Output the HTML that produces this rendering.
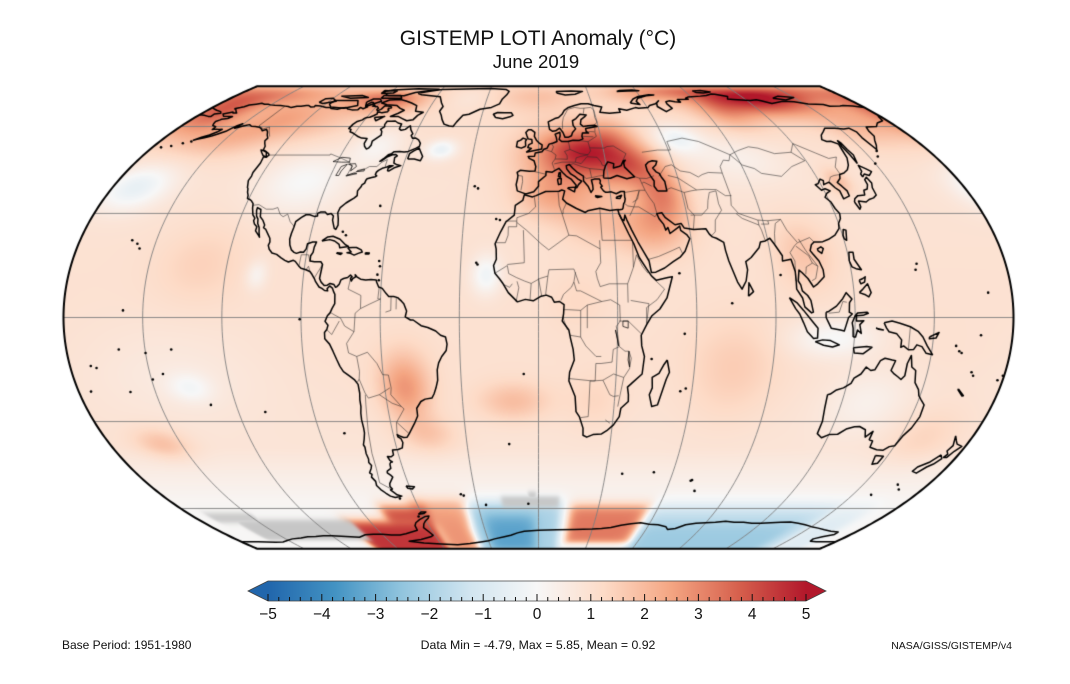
<!DOCTYPE html>
<html><head><meta charset="utf-8">
<style>
html,body{margin:0;padding:0;background:#fff;}
body{width:1070px;height:684px;position:relative;overflow:hidden;}
#c{position:absolute;left:0;top:0;}
#o{position:absolute;left:0;top:0;}
text{font-family:"Liberation Sans",Arial,sans-serif;fill:#111;}
</style></head><body>
<canvas id="c" width="1070" height="684"></canvas>
<svg id="o" width="1070" height="684" viewBox="0 0 1070 684">
<defs>
<linearGradient id="cb" x1="0" x2="1" y1="0" y2="0">
<stop offset="0" stop-color="#2166ac"/><stop offset="0.125" stop-color="#4393c3"/>
<stop offset="0.25" stop-color="#92c5de"/><stop offset="0.375" stop-color="#d1e5f0"/>
<stop offset="0.5" stop-color="#f7f7f7"/><stop offset="0.625" stop-color="#fddbc7"/>
<stop offset="0.75" stop-color="#f4a582"/><stop offset="0.875" stop-color="#d6604d"/>
<stop offset="1" stop-color="#b2182b"/>
</linearGradient>
</defs>
<text x="538" y="45" text-anchor="middle" font-size="21">GISTEMP LOTI Anomaly (°C)</text>
<text x="536" y="68" text-anchor="middle" font-size="18.5">June 2019</text>
<polygon points="268,581 248,591 268,601" fill="#2166ac"/>
<polygon points="806,581 826,591 806,601" fill="#b2182b"/>
<rect x="268" y="581" width="538" height="20" fill="url(#cb)"/>
<polygon points="248,591 268,581 806,581 826,591 806,601 268,601" fill="none" stroke="#444" stroke-width="0.8"/>
<g id="ticks" stroke="#111" stroke-width="1"></g>
<g font-size="15.5" text-anchor="middle">
<text x="268" y="619">−5</text><text x="321.8" y="619">−4</text><text x="375.6" y="619">−3</text>
<text x="429.4" y="619">−2</text><text x="483.2" y="619">−1</text><text x="537" y="619">0</text>
<text x="590.8" y="619">1</text><text x="644.6" y="619">2</text><text x="698.4" y="619">3</text>
<text x="752.2" y="619">4</text><text x="806" y="619">5</text>
</g>
<text x="62" y="649" font-size="12">Base Period: 1951-1980</text>
<text x="538" y="649" font-size="12.3" text-anchor="middle">Data Min = -4.79, Max = 5.85, Mean = 0.92</text>
<text x="1012" y="649" font-size="10.5" text-anchor="end">NASA/GISS/GISTEMP/v4</text>
</svg>
<script>
(function(){
var tg=document.getElementById('ticks'),s='';
for(var i=0;i<=50;i++){var x=268+i*10.76;var maj=(i%5==0);s+='<line x1="'+x+'" x2="'+x+'" y1="'+(maj?594:597)+'" y2="601"/>';}
tg.innerHTML=s;

var cv=document.getElementById('c'),ctx=cv.getContext('2d');
var W=1070,H=684,CX=538.5,CY=317.5,S=175.5;
var A1=1.340264,A2=-0.081106,A3=0.000893,A4=0.003796,M=Math.sqrt(3)/2,D=Math.PI/180;
function P(lon,lat){var l=lon*D,p=lat*D;var th=Math.asin(M*Math.sin(p));var t2=th*th,t6=t2*t2*t2;
var x=l*Math.cos(th)/(M*(A1+3*A2*t2+t6*(7*A3+9*A4*t2)));var y=th*(A1+A2*t2+t6*(A3+A4*t2));return [CX+S*x,CY-S*y];}

var basePts=[[-90,0.05],[-62,0.05],[-56,0.15],[-47,0.45],[-38,0.85],[-10,1.0],[20,0.95],[40,0.9],[60,1.05],[75,1.25],[90,1.3]];
function base(lat){for(var i=1;i<basePts.length;i++){if(lat<=basePts[i][0]){var a=basePts[i-1],b=basePts[i];var t=(lat-a[0])/(b[0]-a[0]);return a[1]+t*(b[1]-a[1]);}}return 1.3;}
var blobs=[
[125,73,22,6,3.2],[150,80,30,6,1.5],[90,80,20,5,1.5],[60,78,15,5,0.8],[100,66,10,6,1.0],
[-172,66,12,7,2.2],[-150,76,25,6,1.4],[-135,63,12,5,0.9],
[-82,73,12,5,1.8],[-100,75,12,5,1.0],[-115,62,15,6,0.7],
[-40,75,10,6,-0.4],[0,75,15,6,0.6],[160,60,12,6,0.9],
[22,50,14,6,2.6],[15,47,18,9,1.4],[42,45,9,5,1.7],[52,36,7,6,1.8],[45,26,10,6,1.4],[5,35,10,5,1.0],[22,28,10,6,0.7],[35,57,8,5,0.8],
[66,55,8,4,-1.3],[90,48,15,6,-0.6],[-170,38,10,5,-1.4],[-100,40,13,7,-0.9],[-75,52,8,5,-0.8],[-45,51,5,2.5,-1.4],
[-108,12,3,3,-0.8],[-20,12,4,4,-1.2],[112,-6,12,4,-1.0],[130,-24,12,7,-0.6],[-136,-20,6,3,-0.8],[-140,-15,25,10,-0.35],
[128,40,4,3,1.0],[103,18,8,7,0.8],[-52,-20,7,7,1.8],[-45,-34,8,4,0.8],[-10,-24,10,4,1.0],[-158,-37,8,3.5,1.0],
[75,-15,12,10,0.6],[160,-35,10,6,0.5],[-130,15,12,8,0.5],[-150,55,15,5,1.0],[22,-24,8,6,0.4],[15,5,8,6,0.3]
];
function sg(x){return 1/(1+Math.exp(-x));}
function sr(lon,lat,r){var s=r[5]||1;return sg((lon-r[0])/s)*sg((r[1]-lon)/s)*sg((lat-r[2])/s)*sg((r[3]-lat)/s);}
var ov=[
[-64,-34,-67,-56.5,2.4,1.6],
[-80,-56,-67,-59,4.2,1.4],
[-104,-56,-91,-65.5,4.5,1.4],
[-56,-37,-88,-62,2.8,1.6],
[-36,12,-91,-57.5,-2.0,1.5],
[-29,-2,-86,-63,-3.4,2.0],
[16,57,-79,-58.5,3.3,1.4],
[56,150,-91,-59,-1.5,1.8],
[58,140,-91,-67,-2.3,2.2],
[150,168,-91,-60,-0.8,2.2]
];
var gr=[[-172,-148,-66.5,-62,0,0.8],[-162,-100,-77,-65,0,0.8],[-18,10,-59.5,-55.2,0,0.6],[-5,-1,-56,-53.3,0,0.5]];
var stops=[[-5,[33,102,172]],[-3.75,[67,147,195]],[-2.5,[146,197,222]],[-1.25,[209,229,240]],[0,[247,247,247]],[1.25,[253,219,199]],[2.5,[244,165,130]],[3.75,[214,96,77]],[5,[178,24,43]]];
function cmap(v){if(v<=-5)return stops[0][1].slice();if(v>=5)return stops[8][1].slice();
for(var i=1;i<stops.length;i++){if(v<=stops[i][0]){var a=stops[i-1],b=stops[i],t=(v-a[0])/(b[0]-a[0]);return [a[1][0]+t*(b[1][0]-a[1][0]),a[1][1]+t*(b[1][1]-a[1][1]),a[1][2]+t*(b[1][2]-a[1][2])];}}}
function colorAt(lon,lat){var v=base(lat);
for(var i=0;i<blobs.length;i++){var b=blobs[i];var dl=lon-b[0];if(dl>180)dl-=360;if(dl<-180)dl+=360;var dx=dl/b[2],dy=(lat-b[1])/b[3];var e=dx*dx+dy*dy;if(e<14)v+=b[4]*Math.exp(-0.5*e);}
var g=0;
if(lat<-50){for(var j=0;j<ov.length;j++){var w=sr(lon,lat,ov[j]);if(w>0.001)v=v*(1-w)+ov[j][4]*w;}
for(var k=0;k<gr.length;k++){var w2=sr(lon,lat,gr[k]);if(w2>g)g=w2;}}
var c=cmap(v);
if(g>0){c[0]=c[0]*(1-g)+198*g;c[1]=c[1]*(1-g)+198*g;c[2]=c[2]*(1-g)+198*g;}
return c;}

var img=ctx.createImageData(W,H),d=img.data;
for(var i=0;i<d.length;i++)d[i]=255;
var YM=1.31735;
for(var py=80;py<560;py++){
var Y=(CY-(py+0.5))/S;if(Math.abs(Y)>YM)continue;
var th=Y/A1;
for(var k=0;k<10;k++){var t2=th*th,t6=t2*t2*t2;var f=th*(A1+A2*t2+t6*(A3+A4*t2))-Y;var fp=A1+3*A2*t2+t6*(7*A3+9*A4*t2);th-=f/fp;}
var t2=th*th,t6=t2*t2*t2;var fp=A1+3*A2*t2+t6*(7*A3+9*A4*t2);
var sn=Math.sin(th)/M;if(sn>1)sn=1;if(sn<-1)sn=-1;
var lat=Math.asin(sn)/D;var fac=M*fp/Math.cos(th)/D;
for(var px=0;px<W;px++){var lon=((px+0.5)-CX)/S*fac;if(lon<-180||lon>180)continue;
var c=colorAt(lon,lat);var q=(py*W+px)*4;d[q]=c[0];d[q+1]=c[1];d[q+2]=c[2];}
}
ctx.putImageData(img,0,0);

function outline(){ctx.beginPath();var p,la,lo;
for(la=-90;la<=90;la+=1){p=P(-180,la);if(la==-90)ctx.moveTo(p[0],p[1]);else ctx.lineTo(p[0],p[1]);}
for(la=90;la>=-90;la-=1){p=P(180,la);ctx.lineTo(p[0],p[1]);}
ctx.closePath();}
ctx.save();outline();ctx.clip();

ctx.strokeStyle='#7f7f7f';ctx.lineWidth=0.9;
[0,30,-30,60,-60].forEach(function(la){var a=P(-180,la),b=P(180,la);ctx.beginPath();ctx.moveTo(a[0],a[1]);ctx.lineTo(b[0],b[1]);ctx.stroke();});
for(var lo=-150;lo<=150;lo+=30){ctx.beginPath();for(var la=-90;la<=90;la+=2){var p=P(lo,la);if(la==-90)ctx.moveTo(p[0],p[1]);else ctx.lineTo(p[0],p[1]);}ctx.stroke();}

function line(a,close){ctx.beginPath();for(var i=0;i<a.length;i+=2){var p=P(a[i],a[i+1]);if(i==0)ctx.moveTo(p[0],p[1]);else ctx.lineTo(p[0],p[1]);}if(close)ctx.closePath();ctx.stroke();}

var BR=[
[-123,49,-95,49,-95,49.4,-89.5,48,-84.5,46.5,-82.5,45,-83,42,-79,43.3,-76.5,44,-74.7,45,-71.5,45,-70,46.5,-68,47.4,-67.8,45,-67,44.8],
[-141,69.6,-141,60.3,-137,59,-135,59.8,-133.5,58.5,-130,55.9],
[-117.1,32.5,-114.7,32.7,-111,31.3,-108.2,31.3,-106.5,31.8,-104.5,29.7,-103,29,-101.5,29.8,-99.5,27.5,-97.2,26],
[-92.2,14.5,-92,17.8,-89.2,17.8,-88.2,15.8],[-89.3,13.5,-88.5,14.5,-87.8,13.2],[-83.2,15,-85.7,11.2],[-83.7,11,-82.6,9.5],
[-71.7,11.7,-72.5,8,-67.5,6.2,-67.5,2.5,-69.5,1.2,-70,-4,-73.5,-2.4,-75,-0.2,-77.5,0.8,-78.8,1.4],
[-60.7,8.5,-61,5.2,-60,5.2,-64,3.8,-67.5,2.5],
[-70,-4,-73,-7.3,-72.5,-10,-69.5,-11,-65.3,-9.8,-62,-13,-60.2,-16.2,-58,-16.3,-57.5,-20,-58,-22,-54.5,-25.5,-53.6,-26.2,-57.5,-30.2,-53.4,-33.7],
[-69.5,-11,-69,-15.3,-69.5,-17.5,-68,-21.5,-67,-23,-62.5,-22,-58,-20],[-62.5,-22,-58,-24.5,-54.5,-25.5],
[-68,-22,-68.5,-25,-70,-33,-71.2,-40,-71.7,-45,-73,-50,-69,-52.3],[-80.3,-3.4,-78.5,-4.8,-75.5,-1],[-70.3,-18.3,-69.5,-17.5],
[-58.4,-33.9,-57.6,-30.2],[-56,5.8,-56,2,-58,1.5],[-54,5.6,-54,2.3],
[-8.9,42,-7,41.8,-6.8,40,-7.4,37.2],[-1.8,43.3,3.2,42.4],[2.5,51.1,6,50.2,8,49,7.5,47.6,6.1,46.2,7,44],[6,53.4,7,52,6,50.2],
[7.5,47.6,10,47.6,13,47.5,13,48.8,12,50.3,14.6,51,14.2,54],[14.6,51,19,49.5,22.6,49.1,24,50.5,23.5,53.9,19,54.4],
[7,45.9,10.5,46.5,13.8,46.5],[13.8,46.5,16.5,46.5,17,48,19,48.5,22.6,49.1],[16.5,46.5,19,46,22,48.4,26.5,48.2,28,46.5,28.2,45.5,29.6,45.2],
[13.6,45.5,15.5,46,19,45,22.5,44.3,22.9,41.3,20.5,41,19.4,41.8],[22.9,41.3,26,41.8,28,42],[22.5,44.3,27,44,28.6,43.8],
[23.5,53.9,28,56,27.7,57.5,28.2,59.4],[21,56,26.5,55.8],[21.5,57.3,25.5,57.9,27.5,57.8],
[24,51.6,30.5,51.5,32,52.1,35,52.3,40,49.5,38,47.2],[28,60.5,30,61.8,29.5,64,30,67.6,28.9,69],
[12,59,12.2,61.5,13,64,16,68,20,69,23,68.5,25,68.6,28.9,69],[25,68.6,24,66,24.2,65.8],
[36,36.5,42,37.2,44.8,37.2,44,39.4,45,39.8,48,38.5],[41.5,41.6,43.5,41.1,46.5,41,50,41.9],[44,39.4,43.5,41.1],
[39,32,41,32,47,29,48,29.9],[35.5,33,36.5,32.3,39,32,42.3,37.1],[38.8,33.4,41,34.4,42.3,37.1],[36.9,29.3,39,32],
[42.7,16.5,46.5,17.3,52,19,55,20,56,18],[44.8,37.2,46,35,47.5,33,47.8,31,48,29.9],
[53.9,37.4,56,38,61,36.5,61,31.5,63,29.4,61.5,25.2],[61,36.5,64,37,66.5,37.3,70,37.5,74.8,37.4],
[61.5,29.5,66,29.5,69,31.5,70,34,71.5,36.5,74.5,37],[74.5,37,74,33,74.5,31,71,28,70,24.5,68.5,23.5],
[52,41.7,56,45,59,45.6,62,43.5,66,43,69,41.5,71,42.3,74,43,80,42.8,80.3,45,83,47.2,85.5,47,87.3,49.1],
[56,42,60,41.2,62,40,66.5,37.3],[47.5,50,55,50.8,61,50.8,61,54,69,55.3,76,54,83,51,87.3,49.1],
[87.3,49.1,92,50.6,98,52,102,51.5,108,49.5,116,50,119.5,47,112,45,105,41.7,97,42.7,95,44.3,90.5,45.5,87.3,49.1],
[116,50,120,53.2,127,49.7,131,47.8,135,48.3,131,44.8,131,42.7,130.7,42.3],[124.3,40,126,41.5,128,42,130.7,42.3],
[80,42.8,80,35.5,79,32.5,81,30,88,28,92,27.8,97.3,28.2,98.5,25,101.5,21.3,106.7,22.8,108,21.5],
[80.3,35.5,77.8,35.5,74.8,37.4],[80,30,82,28.5,88,26.5,88.1,28],[89,26.8,92,26.8,92,27.8],[88,26.5,88.5,25,89,22],
[92.6,21,93.3,24,94.7,27,97.3,28.2],[98.3,10.3,99,16,97.7,18.4,100,20.4,101.3,21.2],
[100.5,20.3,104.7,17.5,105.6,15.4,103,14.3,102.4,12.2],[105.6,15.4,107.5,14.5,106,11,104.5,10.4],[102.2,22.4,104,19,107.5,14.5],
[117,4.3,115.5,4.5,114,1.5,110,1.2],[141,-2.6,141,-9.1],
[-1.7,35,-1.2,32,-4,30,-8.7,28.7,-8.7,27.7,-13.2,27.7],[-8.7,27.7,-8.7,26,-12,26,-12,23.5,-13,21.3,-17,21.3],
[-8.7,27.3,-4.8,25,1,21,4,19.2,12,23.5,9.5,30,8.5,32.5,8.2,36.9],[11.5,33.2,10,31,10,30,9.5,30],
[25,31.6,25,22,36.9,22],[12,23.5,15,23.3,24,19.5,24,15.5,22,13,22.5,11,23.5,8.7,27,9.5,34,9.5,34,4.2],[24,19.5,24,22],
[-12,15,-5.5,15.5,-5.5,16.5,-6,25],
[-16.7,12.5,-12,14.7,-11.4,12.4,-8.5,11.3,-5.4,10.3,-2.8,9.6,0.5,11,3.6,11.7,4,13.5,13.6,13.7,15.5,9.5],
[14.2,12.8,13.5,10,14.5,7.5,16,7.5,24,4.5],[2.7,6.4,3.6,11.7],[8.5,4.8,9.5,6.5,12.5,8.5,13.5,10],
[-3.2,5.1,-2.8,9.6],[1.2,6.1,0,11],[-8.5,4.4,-7.5,8.4,-8.2,10.2],[-13.3,9.3,-11,8.5,-10,9.5],
[9.5,2.2,11.3,2.2,16,2,18.5,3.5,24,4.5,27.4,5,30.8,3.5,31,-1,29.5,-2.5,30,-4.5,30.8,-8.2,28.5,-9,28.2,-12.6,24,-13,22,-13,22,-18,20,-18,20,-24.7,20,-28.5,17,-28.8],
[12,-5,16,-5.5,18,-8,22,-11,24,-11],[11.7,-17.3,21,-18,25,-17.8,29,-16,33,-17,32,-22.3,31.5,-25.5],
[25,-17.8,28,-22,29.4,-22.5],[33,-17,35,-14.5,35.5,-11.5,34.5,-9.5,33,-9.5,30.8,-8.2],
[39.2,-4.7,34,-1,30.5,-1],[35,4.8,41.9,3.9,41,-1.7],[41,-1.7,41,2.8,45,5,48,8,43.2,11.5],
[34,9.5,36.5,14.2,36.9,22],[36.5,14.2,38,17.8],[42,12.5,40,14.5,38,17.8],[16,2,16,-5.5],[18.5,3.5,18.5,-3],
[9.5,2.2,9.5,-0.5,11,-3.5],[29.4,-22.5,31.5,-22.3],[27,-29.5,29,-30.5]
];
ctx.strokeStyle='#2a2a2a';ctx.lineWidth=0.55;ctx.lineJoin='round';
BR.forEach(function(a){line(a,false);});

var C=[
[-166.8,68.3,-164.5,68.9,-163.3,69.4,-162,70.3,-159,70.8,-156.6,71.3,-154.3,70.8,-152.2,70.8,-150.3,70.4,-147.6,70.2,-144,70,-141,69.7,-139,69.5,-136.5,68.9,-134.3,69.6,-132,69.6,-129.6,70,-128.2,70,-126,69.2,-124.4,69.4,-124.7,70.1,-121.5,69.8,-117.4,69,-115,68.9,-113.9,68.4,-110,68,-108.2,68.7,-106.2,69,-104.3,68.1,-101.7,67.7,-98.5,67.8,-98.3,69,-96.2,68.3,-94.7,69.3,-96.5,70.1,-95.2,71.9,-93.9,71.8,-92.9,70.9,-91.5,70.2,-92.4,69.7,-90.5,69.5,-89.2,69.3,-88,68.6,-88.3,67.9,-87.3,67.2,-86,68.1,-85.6,69.9,-84.1,69.8,-82.6,69.7,-81.3,69.2,-81.2,68.7,-82.5,68.5,-82,67.7,-81.4,67.6,-81.4,66.8,-84,66.2,-85.8,66.6,-86.6,66.4,-86,65.7,-87.2,64.8,-88.5,64.1,-90,64,-90.8,63.6,-91.2,62.9,-93.2,62.2,-94.2,60.9,-94.6,59.1,-93.2,58.8,-92.8,57.8,-90.9,57.3,-88.5,56.4,-87.3,55.9,-85.1,55.3,-82.3,55.1,-82.3,53.3,-81.4,52.2,-79.9,51.2,-79.1,51.5,-78.6,52.6,-79.1,54.1,-76.5,56.5,-77.3,58,-78.5,58.8,-77.3,59.9,-78,60.8,-77.9,62.3,-75.7,62.3,-73.8,62.4,-71.7,61.5,-69.6,61.1,-69.3,59,-68,58.4,-66.2,58.8,-65.2,59.9,-64.6,60.3,-63.4,58.7,-61.4,57,-61.8,56.3,-60.5,55.2,-59,55.3,-57.3,54.6,-55.8,53.3,-55.7,52.1,-57.1,51.4,-59.9,50.3,-61.8,50.1,-63.9,50.3,-66.4,50.2,-67.2,49.5,-68.5,49.1,-69.9,47.7,-71.1,46.8,-70.3,47,-68.7,48.3,-66.6,49.1,-65.1,49.2,-64.2,48.7,-65.1,48.1,-64.5,46.2,-63.2,45.7,-61,45.3,-63.3,44.7,-65.4,43.5,-66.1,43.6,-66.2,44.5,-64.4,45.3,-66,45.3,-67.1,44.8,-68.8,44.4,-70.1,43.7,-70.7,43.1,-70.8,42.3,-70,41.9,-70.5,41.6,-71.9,41.3,-73.7,40.9,-74,40.4,-74.1,39.5,-75,38.9,-75.1,38.3,-76,37,-75.5,35.5,-76.5,34.7,-78,33.9,-79.2,33.2,-81,31.8,-81.4,30.2,-80.5,28.3,-80,26.5,-80.5,25.2,-81.2,25.5,-81.8,26.5,-82.7,28,-82.8,29.2,-84,30,-85.4,29.7,-86.5,30.4,-88.5,30.4,-89.5,30,-89.2,29.2,-90.5,29.1,-92.5,29.6,-94,29.6,-95.5,28.8,-97.3,27.5,-97.4,25.8,-97.7,24,-97.8,22.3,-97.2,20.6,-96.2,19.2,-95,18.5,-94,18.2,-92.5,18.6,-91.3,18.5,-90.5,19.5,-90.4,21,-88.5,21.5,-87,21.5,-87.5,20,-87.6,18.5,-88.3,17.5,-88.2,16,-86.5,15.8,-84,15.8,-83.2,15,-83.5,12.5,-83.7,11,-83,10,-81.7,9,-80.5,9.1,-79.5,9.6,-78,9.3,-77.3,8.5,-76.8,8.7,-76,9.4,-75.5,10.6,-74.5,11,-73,11.3,-72,12,-71.3,11.5,-71.9,11,-71.5,10.3,-71,11,-70,11.5,-70.2,12.1,-69.5,11.5,-68,10.8,-66,10.6,-64,10.7,-62,10.6,-61.8,10,-60.9,8.6,-59.5,8.2,-58,6.8,-56.9,5.9,-55,5.9,-53.5,5.6,-52,4.6,-51.1,3.9,-50,1.8,-50.5,0.2,-48.5,-0.7,-47.5,-0.7,-44.5,-2.3,-42,-2.8,-39,-3.8,-37.2,-5,-35.3,-5.5,-34.8,-7.5,-35.2,-9.3,-37,-11,-38.3,-12.8,-39,-14.8,-39.1,-17.8,-40,-20,-41,-21.8,-42,-23,-44.7,-23.3,-46.5,-24,-48.5,-26,-48.6,-28.3,-50.3,-30.5,-51.5,-31.8,-53.3,-33.7,-54.5,-34.8,-56,-34.9,-57.5,-34.4,-58.4,-34,-58.3,-34.7,-57.2,-35.3,-56.8,-36.5,-57.6,-38.2,-59.5,-38.7,-62,-38.9,-62.2,-40.5,-63.5,-41.1,-65,-41,-64.5,-42.3,-63.6,-42.8,-64.4,-42.9,-65,-43.5,-65.3,-45,-67.3,-45.9,-67.6,-46.5,-66.3,-47.5,-65.9,-48,-67.6,-49.5,-68.5,-50.3,-69,-51.4,-68.4,-52.3,-69.5,-52.6,-68.6,-53.5,-67.5,-54.5,-65.5,-55,-67,-55.2,-69,-55.5,-71,-55,-72.5,-53.8,-74,-52.5,-75,-51,-74.5,-49.5,-75.5,-48,-74.7,-47,-75.5,-46.5,-74,-45,-73.3,-44,-74,-43,-73.5,-41.8,-73.7,-40,-73.3,-38,-73.6,-37.2,-72.6,-35.5,-71.7,-33.5,-71.5,-32,-71.5,-29.5,-71.2,-27.5,-70.6,-25.5,-70.5,-23.5,-70.1,-21.5,-70.2,-19,-71.4,-17.6,-73,-16.6,-75.2,-15.3,-76.3,-13.8,-77.3,-11.8,-78.4,-9.5,-79.5,-7.5,-81.2,-6,-81.2,-4.2,-80.3,-3.4,-79.8,-2.2,-80.9,-1.1,-80,0.5,-79,1.3,-78.3,2.5,-77.3,3.9,-77.4,6.5,-77.9,7.2,-78.5,8.3,-79.6,8.9,-80.5,8.1,-80.2,7.5,-81.4,7.6,-82.5,8.2,-83.6,8.6,-85.1,10.1,-85.7,11,-86.8,12.2,-87.7,13,-89.3,13.5,-91.3,13.9,-92.3,14.6,-93.9,15.9,-94.7,16.2,-96.5,15.7,-98,16.2,-99.6,16.9,-101.6,17.9,-103.5,18.3,-104.9,19.4,-105.6,20.5,-105.3,21.5,-105.7,22.6,-106.9,23.8,-108.3,25.2,-109.4,25.7,-109.3,26.5,-110.6,27.9,-112.2,29,-113.1,31.2,-114.8,31.8,-114.7,30.9,-113.8,29.2,-112.8,28.3,-112.3,27,-111.2,25.8,-110.6,24.3,-109.9,22.9,-110.3,23.3,-112.2,24.8,-112.2,26,-113.5,26.8,-114.3,27.8,-114.2,28.6,-115.5,29.6,-116.7,31.6,-117.3,33,-118.4,33.8,-119.2,34.2,-120.6,34.6,-121,35.6,-121.9,36.6,-122.5,37.7,-123,38.1,-123.8,39.5,-124.3,40.3,-124.1,41.8,-124.5,43,-124,46.2,-124.7,48.4,-123.2,48.2,-122.8,49,-123.5,49.5,-125,50.1,-127.3,50.9,-127.9,52.2,-129.3,53.3,-130.4,54.3,-130.2,55.3,-131.9,56.5,-133.4,57.8,-135.2,58.8,-136.5,58.2,-137.8,58.9,-139.9,59.7,-142.5,60,-144.5,60.1,-146.5,60.8,-148.5,60.3,-150.8,59.6,-151.8,59.3,-150.5,61.2,-152,60.3,-153.2,59.2,-154.2,58,-156.5,56.9,-158.4,56.1,-160.8,55.4,-163.5,54.8,-164.8,54.5,-162.5,55.6,-160,56.5,-158,57.8,-157.2,58.8,-158.6,58.7,-160.5,58.9,-162,58.7,-162.2,59.9,-164.5,60.4,-165.4,61.2,-166.1,62.2,-164.9,62.9,-164.7,63.2,-162,63.5,-161,64.4,-162.8,64.4,-166.1,64.6,-168.1,65.6,-164.5,66.6,-163.7,66.1,-161.7,66.1,-163.8,67.1,-165.4,68,-166.8,68.3],
[-123.4,48.3,-125.3,48.8,-127.2,50,-128.3,50.8,-127,50.6,-125,50,-123.4,48.3],
[-73,78.2,-66,80.5,-60,82,-45,82.8,-30,83.5,-20,82,-18,80,-19,77,-21,74,-22,71,-26,69,-32,68,-37,65.5,-40,65,-42,62,-43,60,-45,60.2,-48,61,-50,63,-51.5,65,-53.5,67,-53,69.5,-55,71.5,-58,75.5,-64,76.3,-70,77,-73,78.2],
[-80,73.7,-76,72.7,-72,71.5,-68,70,-66.5,67,-62,66.5,-64,65,-65,63,-68,62.5,-71,63.5,-74,64.5,-78,64.5,-75,66,-73,67.5,-76,68.5,-79,70,-85,70.5,-89,71.5,-86,73.3,-80,73.7],
[-118,71,-117,73,-110,73,-104,73,-101,70,-107,68.5,-115,69.2,-118,71],
[-125,71.9,-124,74.2,-120,74.5,-116,72.5,-122,71.2,-125,71.9],
[-90,76.5,-80,76.3,-75,79,-65,81.5,-62,82.5,-75,83,-90,81.5,-95,80,-90,76.5],
[-92,74.5,-80,74.5,-82,76.5,-92,76.5,-92,74.5],
[-98,72,-96,74,-92,74,-90,72.5,-96,69.5,-98,72],
[-117,76,-105,76.5,-100,75,-110,74.5,-117,76],
[-95,78,-88,78.5,-87,80.5,-95,81,-95,78],
[-86,64,-81,64.5,-84,62.5,-86,64],
[-59,47.6,-56,47.6,-53,47,-52.6,48.5,-55.5,51.5,-57.5,50.5,-59,49.5,-59,47.6],
[-85,21.8,-83,23,-81,23.2,-78,22.3,-75.5,20.7,-74.2,20.2,-77.5,19.8,-78,20.8,-80,21.8,-82,22.2,-85,21.8],
[-74.4,19.8,-72.5,19.9,-71,19.9,-69,19.2,-68.5,18.6,-70,18.2,-71.5,17.7,-73,18.2,-74.4,18.4,-72.8,18.6,-74.4,19.8],
[-78.3,18.4,-76.3,18.2,-76.8,17.9,-78.3,18.2,-78.3,18.4],
[-67.2,18.4,-65.7,18.3,-65.9,18,-67.2,18,-67.2,18.4],
[-61.5,-51.2,-57.7,-51.5,-59,-52.3,-61,-52,-61.5,-51.2],
[-22.5,64,-24,65.5,-22,66.4,-18,66.2,-14.5,66.2,-13.5,65,-15,64.3,-18.7,63.4,-22.5,64],
[-5.7,50,1.5,51.2,1.7,52.7,0.2,53.5,-1,54.5,-2,56,-1.8,57.6,-3.5,58.6,-5,58.6,-6.2,57.5,-5.6,56.2,-5,55,-3.2,54.8,-3,53.4,-4.5,52.8,-5,51.7,-3.3,51.4,-5.7,50],
[-6,52.2,-6.2,54,-5.7,54.8,-7.4,55.3,-8.5,54.5,-10,54,-10.3,52,-8,51.5,-6,52.2],
[32.3,31.2,29,30.9,25,31.6,20,30.8,19,30.3,15.5,31.5,11.5,33.2,10,34.4,11,37,9.8,37.3,8.6,36.9,3,36.8,-1,35.5,-2.5,35.1,-5.9,35.8,-6.5,34,-9.5,32.5,-9.8,29.5,-13,27.5,-15,24.5,-17,21,-16.5,19.5,-16.3,16.5,-17.3,14.7,-16.7,12.5,-15,11,-13.5,9.5,-11.5,7,-8,4.4,-5,5.1,-2,4.7,1,6,3,6.3,5,5.7,6,4.3,8,4.5,9.7,3.6,9.5,1,9,-1,11.5,-3.5,12.2,-6,13.2,-9,13.7,-12,12,-15.5,11.8,-18,14.4,-22.5,15,-27,16.5,-28.6,18.2,-32,18.4,-34.2,20,-34.8,22.5,-34,26,-33.8,28,-32.8,30.5,-31,32.5,-28.5,32.8,-26,35.5,-24,35.3,-22,34.7,-19.8,36.5,-18.5,40,-16,40.5,-11,39.3,-8,39,-5,41,-2,43,0.5,46,2.4,48.8,5.5,51.2,11.5,49.5,11.3,45,10.5,43.3,11.7,41.5,13.8,39,17,37.3,21,35.6,24,33.8,27.5,32.6,29.9,32.3,31.2],
[49.3,-12,50.5,-15.5,49.5,-17.5,47.2,-25,45,-25.5,43.5,-22,44.4,-20,44,-17,46.5,-15.8,48,-13.5,49.3,-12],
[32.6,29.9,33.5,28.2,34.3,27.8,34.9,29.5,35.5,28,37,25,39,21.5,41,18.5,42.7,16,43.3,12.7,45,12.8,48.5,14,52,15.8,55,17.2,57,18.8,59.5,22.5,58.5,23.7,56.4,24.9,56.3,26.2,55,25.5,52,24,51.5,25.8,50.5,25,50,26.7,48.5,28.4,47.9,29.9,50,30.2,51,28.8,54.5,26.6,57,27,58,25.6,61.6,25.2,66.5,25.4,67.5,23.8,68.5,23,70,22.6,72.6,21.4,72.8,19,73.5,16,74.5,13.5,76,10,77.5,8,78.2,8.9,79.3,10.3,80.3,13.5,80,15.8,82.3,17,86,19.8,87,21.5,89,21.8,91,22.6,92.2,21,94.5,17.5,94.2,16,97.6,16.5,98.5,13,98.4,10,98.3,8,100.3,5.5,101,3,103.5,1.3,104.2,1.5,103.4,4.8,102.3,6.2,100.4,7.5,100,9.2,99.2,10.3,100,13.4,101,12.7,103,11,104.8,8.6,106.5,9.5,109.3,11.5,109.3,13.5,108.3,16,106.5,18,105.7,19,106.7,20.7,108,21.5,110,21.5,111.5,21.6,114,22.3,117,23.5,119.5,25.5,120,27,121.5,28.5,122,30,121,31.5,120.5,33.5,119,35,120.5,36.2,122.5,37,120.8,37.7,119,37.2,118,38.5,117.6,39,119,39.3,121,40.8,122,40.3,121.2,39,124,39.8,125.3,38,126.5,37,126.4,34.5,129.4,35.4,129.6,37,128.5,38.5,127.5,39.7,129.7,41,130.7,42.3,133,42.8,135.5,43.9,137.5,45.5,139.5,48,140.5,51,141.4,53,139,54.1,137,54,135.5,54.7,137.5,56.5,140.5,58,143,59.3,148,59.3,152,59,155,59.3,156.5,57.8,155.8,55.5,156.6,51,158.5,52.5,160.5,54.5,162.5,56,163,58,164.5,59.8,170,60,173,61.5,177.5,62.5,179,64.5,180,65],
[-180,65.3,-177,65,-174,64.5,-172.5,64.4,-172.8,65.6,-170,66,-171.5,66.8,-175,67.5,-178,68.3,-180,68.9],
[180,69,175,69.8,170,70,168,69.8,162,69.6,160,70.6,152,70.9,146,72.2,140,72.5,132,71.2,128,72.8,126,73.5,122,73,113,73.7,110,74,112,75.8,106,77.5,104,77.7,100,76.5,96,76,88,75.3,86,74.5,87,73.8,80.5,73.6,81,72,78,72.2,75,72.8,72.8,72.2,72.5,71,73.5,68.5,69,66.8,66,69.5,67,71.5,69,72.8,66,71,62,70,60.5,69,55,68.5,53.5,68.9,48,67.5,44,68.3,44,66.5,41,66.3,38,66,33,66.5,35,69.2,31,70,28,71,24,71,20,70,16.5,69,14,67.5,12.5,65.5,10.5,64,8.5,63.5,5,62,5.3,60,5.5,58.8,7,58,8.5,58.2,10.5,59.3,11,58.8,12,57.5,12.8,55.6,14.3,55.6,16,56.2,16.7,57.5,18.5,59,17.5,60.5,17.5,62.5,19.5,63.5,22,65.5,25.3,65.2,24.5,64.5,22,63,21.3,61,22.5,60,25,60.3,28.5,60.5,29.5,60,23.5,59.2,23.5,58,24.5,57.3,21.5,57.3,21,56,21.3,55,19.5,54.4,16.5,54.5,14,54,11,54,9.9,54.8,10.5,56.2,10.5,57.6,8.1,56.8,8.6,55.5,8.8,54,7,53.4,5,53,4,51.5,2.5,51.1,1.6,50.2,-1.5,49.7,-1.8,48.6,-4.7,48.5,-4.2,47.8,-2,47,-1.2,45,-1.5,43.5,-4,43.4,-8,43.7,-9.3,43,-8.9,42,-9,41,-9.5,39,-8.9,37,-6,36.2,-5.3,36,-2,36.7,0,38.5,0,40,3.2,42,3.3,43.3,6,43.1,7.5,43.8,9,44.4,10.5,43,12,41.8,14,40.8,16,38.8,15.6,38,16.2,38,17,39,18.5,40.1,17,40.8,16,41.5,14,42.5,12.4,44.2,12.3,45.3,13.7,45.7,15,44.5,17,43,19.4,41.8,19.3,40.2,21,38.5,22,36.5,23,37.5,23,38.8,22.7,40.5,24,40.8,26.2,40.8,26.5,40.2,26.2,39.5,27,38.5,26.3,38.2,27.3,37,28,36.6,29,36.6,30.5,36.7,32.5,36.1,34.5,36.8,36,36.8,35.8,35,35.9,34.5,35.5,33.5,35,33,34.5,31.6,34.2,31.3,33,31.1,32.3,31.2],
[28,41.2,28.6,43.5,29.7,45.3,31,46.6,33.5,46,33,44.5,35.5,45,36.6,45.3,38,47,39,47.2,38,46.3,38,44.8,41.5,41.6,38,40.9,34,42,31,41.1,28,41.2],
[50,37,53.9,37,54,40,53,41.5,52.5,42.7,51.3,43.2,50.3,44.5,52,45.5,53,46.8,51,47,49,46.5,47.5,45.5,47.6,43.5,48.5,41.8,49.5,40.2,49,38.5,50,37],
[11,78.5,16,76.8,22,77.5,27,80,20,80.5,11,79.8,11,78.5],
[52,71.5,57,70.6,56,72.5,58,74.5,64,76.3,69,76.9,66,77.1,59,75.8,55,74,52,71.5],
[96,79,100,78.5,105,79.5,100,81,95,80.5,96,79],
[137,74.5,143,73.3,150,75,142,76,137,74.5],
[48,80,55,80.3,62,80.8,58,81.5,50,81,48,80],
[79.8,6,81.8,7.3,80.3,9.8,79.8,6],
[130.2,33.5,131,31.3,131.8,32,132,33.8,135,33.5,136.8,34.3,139,34.8,140.8,35.7,141,38,142,39.5,141.4,41.4,140,40.6,139.8,39,138.5,37.6,136.8,37.2,136,35.7,133,35.5,131,34.5,130.2,33.5],
[140,41.5,141.5,42.5,143.3,42,145.5,43.3,144,44.2,141.8,45.4,141.3,43.4,140,42.5,140,41.5],
[142,46,143.5,49,143,51,143,53.5,142.5,54.3,141.8,52,142,49,142,46],
[120.2,22.5,121,22,122,25,121,25.2,120.2,23.5,120.2,22.5],
[108.7,19,110,18.2,111,19.6,110.2,20.1,108.7,19.5,108.7,19],
[120,16,120.6,18.5,122.2,18.5,122,16.5,124,13.5,122,13.8,120.6,14.3,120,16],
[122,7,123.5,8,125.5,9.5,126.5,7,125.5,5.8,124,6.5,122,7],
[122.5,10.5,124,11,125,11.5,124.5,10,123,9.5,122.5,10.5],
[109,1.5,110,1.7,113,3.2,115.5,5.3,117,7,119,5.2,118,4.2,117.8,1.5,118.9,1,117.5,0,116.5,-2.5,116,-3.8,114.5,-3.5,111,-3,110,-1.5,109,0,109,1.5],
[95.3,5.6,98,4.2,100.5,2,103.7,-1,106,-3,106,-5.8,104.5,-5.9,102,-4,100.5,-1.5,99,1,97.5,2.5,95.3,5.6],
[105.2,-6.8,108,-6.3,111,-6.5,114.5,-7.7,112,-8.3,108.5,-7.8,105.2,-6.8],
[119.5,-5.5,119.3,-3,118.9,-1.5,120,0.5,121,1.3,124.5,1.5,125,1.2,123,0.6,120.5,0.5,120.5,-1,121.5,-1,123.3,-0.9,121.8,-2,122.5,-4.5,121,-3.5,120.4,-5.5,119.5,-5.5],
[131,-1.5,134,-1,137,-1.6,141,-2.6,144,-3.9,146,-5.5,148,-8,150.5,-10.5,148,-10.1,146,-8.2,144,-7.7,143,-9,141,-9.1,139,-8,138,-8.4,138,-6.3,136,-4.6,133,-4,132,-3,131,-1.5],
[148.5,-5.5,152,-4.2,151,-5.8,148.5,-6,148.5,-5.5],
[120,-8.5,125,-8.2,127,-8.4,124,-10.2,120.5,-10,120,-8.5],
[128,-3,130.8,-3.5,129,-3.3,128,-3],
[113.5,-22,114,-26,115,-30,115,-33.7,117.5,-35,120,-34,123.5,-33.9,126,-32.3,129,-31.6,131,-31.5,134,-32.5,135.5,-34.8,137.5,-33,137.8,-35.6,139.5,-36,140,-38,143.5,-38.8,146.3,-39,148,-37.8,150,-37.5,150.8,-34.5,152.5,-32,153.5,-28.5,153,-25,151,-23.5,149.5,-22.3,148.5,-20.5,146.3,-18.5,145.3,-15,143.5,-14,142.5,-10.7,141.5,-13,141.6,-16.5,140.5,-17.6,139,-16.8,137,-15.8,135.8,-15,136.8,-12.2,135.5,-12,132.6,-11.5,131,-12.2,129.5,-14.8,128,-15,126,-14,124.5,-16,122.2,-17.2,121.5,-18.7,119,-20,116.5,-20.6,114.5,-21.8,113.5,-22],
[144.7,-40.7,148.3,-40.9,148,-43.2,146,-43.6,144.7,-40.7],
[172.7,-34.4,174.5,-36,175.8,-37,178.5,-37.7,177,-39.3,176,-41.3,174.6,-41.3,175.2,-40.2,173.8,-39.2,174.6,-37.5,172.7,-34.4],
[172.7,-40.5,174.3,-41.7,172.8,-43.5,171,-44.5,169,-46.6,166.5,-46,167,-44.5,170.5,-42.8,172.7,-40.5],
[164,-20.3,167,-22.3,166.5,-22.4,164,-20.6,164,-20.3],
[12.4,38,15.6,38.2,15.1,36.7,12.4,37.8,12.4,38],[8.4,41,9.8,41,9.6,39.2,8.5,39,8.2,40.5,8.4,41],
[9,43,9.5,42.9,9.5,41.4,8.6,41.7,9,43],[23.5,35.5,26.3,35.2,24.5,34.9,23.5,35.3],[32.3,35,34.6,35.6,33.8,34.6,32.3,34.7,32.3,35],
[-180,-78.3,-170,-78.4,-160,-78.8,-155,-78.5,-150,-77,-146,-76,-140,-75.3,-135,-74.5,-130,-74.3,-125,-73.8,-120,-73.8,-115,-74.2,-110,-74.5,-105,-74.8,-100,-73.2,-95,-72.8,-90,-72.8,-85,-73.3,-80,-73.3,-76,-72.5,-72,-71.5,-68,-70.5,-67.5,-68,-66,-66.5,-63,-65,-59,-63.5,-57,-63.3,-58,-64.3,-60.5,-65.8,-62,-67,-63.5,-69,-62,-71.5,-61,-73.5,-63,-74.5,-70,-76.5,-78,-77.8,-70,-79.5,-60,-80.5,-50,-81.2,-42,-80,-35,-78.5,-30,-77.5,-26,-76,-20,-74.5,-16,-73.5,-12,-72,-8,-71,0,-70.5,10,-70.2,20,-70,30,-69.8,35,-69.5,40,-69,45,-67.8,50,-67,55,-66.5,60,-67.3,65,-67.5,70,-68.5,72,-70,76,-69.5,80,-67.5,85,-66.8,90,-66.5,95,-66.3,100,-65.8,105,-66.3,110,-66.2,115,-66.7,120,-66.8,125,-66.5,130,-66.2,135,-66.1,140,-66.7,145,-67.5,150,-68.5,155,-69.3,160,-70.2,165,-71,170,-71.5,170.5,-73,166,-74.5,163,-76,164,-77.8,168,-78.2,175,-78.3,180,-78.3],
[-62,-62.5,-59,-62.2,-57.5,-61.5,-60,-61.5,-62,-62.5]
];
ctx.strokeStyle='#000';ctx.lineWidth=1.5;ctx.lineJoin='round';
C.forEach(function(a){line(a,false);});

var LK=[[-92,46.7,-88,46.5,-84.5,46.5,-85,47.9,-89,48.2,-92,46.7],[-87.8,42,-87.2,45,-85,45.8,-86.3,43.5,-86.5,42,-87.8,42],
[-84.5,45.8,-82.5,45.3,-82.2,43.5,-80.5,45,-81.5,46,-84.5,45.8],[-83.3,41.8,-79,42.6,-80.5,42.7,-83.3,42],[-79.5,43.3,-76.3,43.5,-76.5,44.2,-79.3,43.6],
[32,-1,34,-1,34,-3,32,-2.5,32,-1],[29.2,-3.5,30.5,-8,30,-6,29.2,-3.5],[34.5,-9.5,35,-14,34.3,-12,34.5,-9.5]];
ctx.lineWidth=0.7;LK.forEach(function(a){line(a,true);});

var DT=[-157,21,-155.5,19.6,-159.5,22,-90.5,-0.5,-27,38.5,-25.5,37.8,-15.5,28,-17,28.3,-24,15.5,-23.5,15,-64.8,32.3,-37,-54.3,-35.8,-54.8,-12.3,-37,-5.7,-16,57.5,-20.2,55.5,-21,69.5,-49.3,70,-49,178,-17.8,179.5,-16.5,167,-15.5,168,-16.5,159,-8,160.5,-9.5,161.5,-10,-172,-13.7,-149.5,-17.6,-140,-9,-145,-16,-159.8,-21.2,-175.2,-21.1,145.7,15.2,144.8,13.5,73.5,4,92.7,12,54,12.5,43.3,-11.7,55.5,-4.6,-77.5,24.5,-76,23.5,-61,14.5,-61.5,16,-61.7,12.1,-61,10.5,-176,51.8,-172,52.3,-168,53.3,-165,54,150,46,154,48.5,156,50.5,-109.3,-27.1,-80,-33.6,-130,-25,-170,-14.3,-157.5,2,-160,-9,-150,-10,171,7,168,-5,-5,-58,-26,-58.5,37.5,-46.8,51.5,-46.3,73.5,-53,158.8,-54.5,166,-50.7,169,-52.5,-67,-55.9,-62.5,-63.5];
ctx.fillStyle='#000';
for(var i=0;i<DT.length;i+=2){var p=P(DT[i],DT[i+1]);ctx.beginPath();ctx.arc(p[0],p[1],1.3,0,Math.PI*2);ctx.fill();}

ctx.restore();
ctx.strokeStyle='#000';ctx.lineWidth=2;outline();ctx.stroke();
})();
</script>
</body></html>
